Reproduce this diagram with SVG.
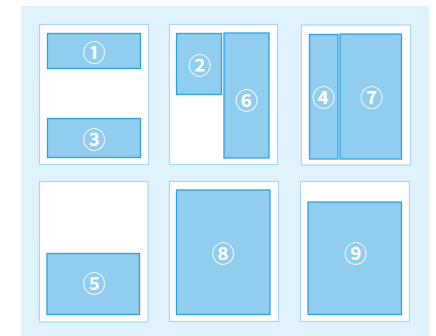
<svg xmlns="http://www.w3.org/2000/svg" width="436" height="336" viewBox="0 0 436 336">
<style>
.page{fill:#ffffff;stroke:#a6d9f0;stroke-width:1.2}
.box{fill:#90cdef;stroke:#2ba3de;stroke-width:1.3}
.lbl{fill:#ffffff;font-family:"Noto Sans CJK SC","DejaVu Sans",sans-serif;font-size:23px;font-weight:bold;text-anchor:middle;dominant-baseline:central}
</style>
<rect x="21" y="6" width="408" height="330" fill="#e0f2fc"/>
<g id="page1">
<rect class="page" x="39.5" y="24.5" width="109" height="140"/>
<g id="n1"><rect class="box" x="47.5" y="33.5" width="93" height="35"/><text class="lbl" x="94" y="51">①</text></g>
<g id="n3"><rect class="box" x="47.5" y="118.5" width="93" height="39"/><text class="lbl" x="94" y="138">③</text></g>
</g>
<g id="page2">
<rect class="page" x="169.5" y="24.5" width="108" height="140"/>
<g id="n2"><rect class="box" x="176.5" y="33.5" width="45" height="61"/><text class="lbl" x="199.5" y="64">②</text></g>
<g id="n6"><rect class="box" x="224" y="33" width="45" height="125"/><text class="lbl" x="246.5" y="99">⑥</text></g>
</g>
<g id="page3">
<rect class="page" x="301.5" y="25" width="109" height="140"/>
<g id="n4"><rect class="box" x="309.5" y="34.5" width="28.5" height="124.5"/><text class="lbl" x="323.5" y="96">④</text></g>
<g id="n7"><rect class="box" x="340" y="34" width="61.5" height="125"/><text class="lbl" x="371.5" y="96">⑦</text></g>
</g>
<g id="page4">
<rect class="page" x="39.5" y="181.5" width="108.5" height="140.5"/>
<g id="n5"><rect class="box" x="47" y="253.5" width="92.5" height="61"/><text class="lbl" x="94" y="282">⑤</text></g>
</g>
<g id="page5">
<rect class="page" x="169.5" y="181.5" width="109" height="140"/>
<g id="n8"><rect class="box" x="176.5" y="190" width="93.5" height="124.5"/><text class="lbl" x="223" y="252">⑧</text></g>
</g>
<g id="page6">
<rect class="page" x="300.5" y="181.5" width="109" height="140"/>
<g id="n9"><rect class="box" x="308" y="202" width="93.5" height="112.5"/><text class="lbl" x="355.5" y="252">⑨</text></g>
</g>
</svg>
